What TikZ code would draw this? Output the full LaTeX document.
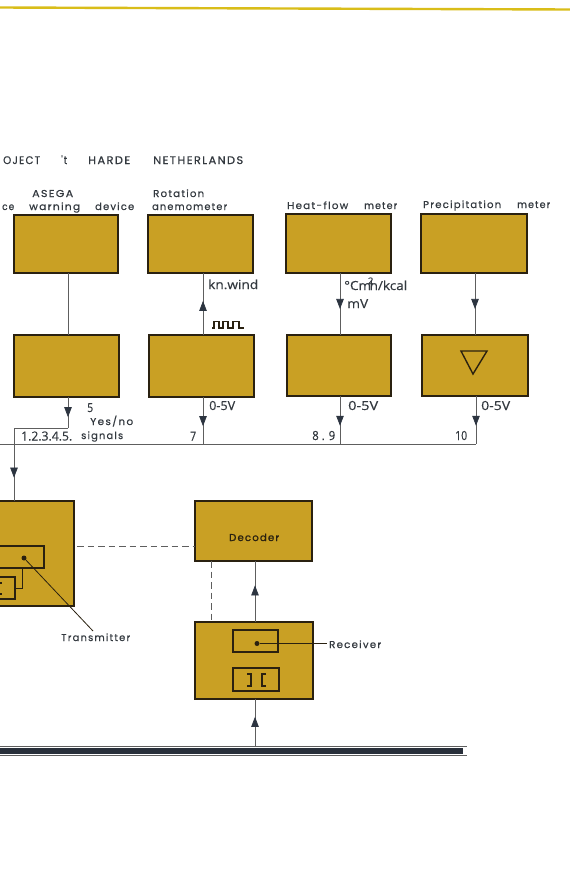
\documentclass[tikz,border=0pt]{standalone}
\usepackage{fontspec}
\usepackage{graphicx}
\setmainfont{Poppins}
\newfontfamily\spaced[LetterSpace=12,FakeBold=0.45]{Poppins}
\newfontfamily\spacedb[LetterSpace=12,FakeBold=1.0]{Poppins}
\newfontfamily\din[FakeBold=0.35]{Open Sans}
\usetikzlibrary{decorations.markings,arrows.meta}
\definecolor{gold}{HTML}{C9A024}
\definecolor{edge}{HTML}{2A2110}
\definecolor{wire}{HTML}{5E5E5E}
\definecolor{tipc}{HTML}{2C3440}
\definecolor{ink}{HTML}{33393F}
\newcommand{\bx}[5]{\node[goldbox,minimum width=#4pt-#2pt,minimum height=#5pt-#3pt] (#1) at ({(#2+#4)/2},{(#3+#5)/2}) {};}
\newcommand{\ibx}[5]{\node[innerbox,minimum width=#4pt-#2pt,minimum height=#5pt-#3pt] (#1) at ({(#2+#4)/2},{(#3+#5)/2}) {};}
% name, x1, baseline y, x2, text
\newcommand{\lb}[5]{\node[lab] (#1) at (#2,#3) {\resizebox{\dimexpr #4pt-#2pt\relax}{\height}{\spaced #5}};}
\newcommand{\hd}[5]{\node[lab,font=\fontsize{11}{12}\selectfont] (#1) at (#2,#3) {\resizebox{\dimexpr #4pt-#2pt\relax}{\height}{\spaced #5}};}
\newcommand{\nb}[5]{\node[numlab] (#1) at (#2,#3) {\resizebox{\dimexpr #4pt-#2pt\relax}{\height}{\din #5}};}
\tikzset{
  goldbox/.style={draw=edge,fill=gold,line width=1.4pt,inner sep=0pt,outer sep=0pt},
  innerbox/.style={draw=edge,line width=1.2pt,inner sep=0pt,outer sep=0pt},
  lab/.style={anchor=base west,inner sep=0pt,text=ink,font=\fontsize{10}{11}\selectfont},
  numlab/.style={anchor=base west,inner sep=0pt,text=ink,font=\fontsize{12.5}{14}\selectfont},
  wirel/.style={draw=wire,line width=0.7pt},
  dashl/.style={draw=wire,line width=0.7pt,dash pattern=on 6.5pt off 4pt},
  arrowat/.style={wirel,postaction={decorate},decoration={markings,mark=at position #1 with {\arrow[tipc]{Triangle[width=7.5pt,length=10pt]}}}},
  dotn/.style={circle,fill=edge,inner sep=0pt,minimum size=5pt}
}
\begin{document}
\begin{tikzpicture}[x=1pt,y=-1pt]
\useasboundingbox (0,0) rectangle (570,884);
\fill[white] (0,0) rectangle (570,884);
\coordinate (ruleL) at (0,7.5); \coordinate (ruleR) at (570,9.5);
\draw[line width=2.4pt,color=gold!70!yellow] (ruleL) -- (ruleR);

% headings
\hd{h1}{3}{164}{40}{OJECT}
\hd{h2}{61}{164}{67}{'t}
\hd{h3}{88}{164}{130}{HARDE}
\hd{h4}{153}{164}{243}{NETHERLANDS}
\lb{t1}{32}{197}{73}{ASEGA}
\lb{t2}{2}{210}{14}{ce}
\lb{t3}{29}{210}{80}{warning}
\lb{t4}{95}{210}{134}{device}
\lb{t5}{153}{197}{204}{Rotation}
\lb{t6}{152}{210}{227}{anemometer}
\lb{t7}{287}{209}{348}{Heat-flow}
\lb{t8}{364}{209}{397}{meter}
\lb{t9}{423}{208}{501}{Precipitation}
\lb{t10}{517}{208}{550}{meter}

% boxes
\bx{a1}{14}{215}{118}{273}
\bx{b1}{148}{215}{253}{273}
\bx{c1}{286}{214}{391}{273}
\bx{d1}{421}{214}{527}{273}
\bx{a2}{14}{335}{119}{397}
\bx{b2}{149}{335}{254}{397}
\bx{c2}{287}{335}{391}{396}
\bx{d2}{422}{335}{528}{396}
\bx{tx}{-10}{501}{74}{606}
\bx{dec}{195}{501}{312}{561}
\bx{rx}{195}{622}{313}{699}
\ibx{txa}{-10}{546}{44}{568}
\ibx{txb}{-10}{577}{15}{599}
\ibx{rxa}{233}{630}{278}{652}
\ibx{rxb}{233}{668}{279}{691}

% triangle
\draw[edge,line width=1.4pt,line join=miter] (461,351) -- (487,351) -- (473,374) -- cycle;
% brackets
\draw[edge,line width=1.3pt] (247,674) -- (251,674) -- (251,686) -- (247,686);
\draw[edge,line width=1.3pt] (266,674) -- (262,674) -- (262,686) -- (266,686);
\draw[edge,line width=1.1pt] (0,583) -- (1.5,583) (0,594) -- (1.5,594);

% junction coordinates
\coordinate (ax) at (68,300);
\coordinate (bx) at (203,300);
\coordinate (cx) at (340,300);
\coordinate (dx) at (475,300);
\coordinate (busL) at (0,444);
\coordinate (busR) at (476,444);
\coordinate (j1) at (68,428);
\coordinate (j2) at (14,428);
\coordinate (recvx) at (255,600);
\coordinate (decx) at (211,600);

% connectors
\draw[wirel] (a1.south -| ax) -- (a2.north -| ax);
\draw[arrowat=0.55] (b2.north -| bx) -- (b1.south -| bx);
\draw[arrowat=0.58] (c1.south -| cx) -- (c2.north -| cx);
\draw[arrowat=0.58] (d1.south -| dx) -- (d2.north -| dx);
\draw[arrowat=0.65] (a2.south -| ax) -- (j1);
\draw[wirel] (j1) -- (j2);
\draw[arrowat=0.68] (j2) -- (j2 |- tx.north);
\draw[wirel] (busL) -- (busR);
\draw[arrowat=0.62] (b2.south -| bx) -- (bx |- busL);
\draw[arrowat=0.62] (c2.south -| cx) -- (cx |- busL);
\draw[arrowat=0.62] (d2.south -| busR) -- (busR);
\coordinate (dashL) at (77,546);
\draw[dashl] (dashL) -- (dashL -| dec.west);
\draw[dashl] (dec.south -| decx) -- (rx.north -| decx);
\draw[arrowat=0.6] (rx.north -| recvx) -- (dec.south -| recvx);

% bottom cable
\coordinate (cabT) at (255,746);
\draw[wire,line width=0.7pt] (0,746) -- (467,746);
\fill[tipc!90!black] (0,748) rectangle (463,753.5);
\draw[wire,line width=0.6pt] (0,754.8) -- (467,754.8);
\draw[arrowat=0.62] (cabT) -- (rx.south -| cabT);

% dots and leaders
\node[dotn] (tdot) at (24,558) {};
\lb{tlab}{61}{641}{130}{Transmitter}
\coordinate (tend) at (93,631);
\draw[edge,line width=0.8pt] (tdot) -- (tend);
\node[dotn] (rdot) at (257,643.5) {};
\lb{rlab}{329}{648}{381}{Receiver}
\coordinate (rend) at (327,643.5);
\draw[edge,line width=0.8pt] (rdot) -- (rend);
\draw[edge,line width=0.6pt] (22,568) -- (22,588) -- (15,588);
\node[lab,text=edge] (dectext) at (229,541) {\resizebox{50pt}{\height}{\spacedb Decoder}};

% labels
\nb{kn}{208}{289}{258}{kn.wind}
\nb{kc}{344}{290}{407}{°Cm\kern-3pt\raisebox{6pt}{\fontsize{9}{10}\selectfont 2}\kern-3.5pt h/kcal}
\nb{mv}{347}{308}{368}{mV}
\draw[edge,line width=1.2pt] (212,328) -- (214,328) -- (214,321.5) -- (219,321.5) -- (219,328) -- (223,328) -- (223,321.5) -- (228,321.5) -- (228,328) -- (233,328) -- (233,321.5) -- (239,321.5) -- (239,328) -- (244,328);
\nb{n5}{87}{412}{93}{5}
\lb{yes}{90}{425}{133}{Yes/no}
\nb{n1}{21}{440.5}{72}{1.2.3.4.5.}
\lb{sig}{81}{439}{123}{signals}
\nb{v1}{209}{410}{235}{0-5V}
\nb{n7}{190}{440.5}{196}{7}
\nb{v2}{348}{410}{378}{0-5V}
\nb{n8}{312}{440}{335}{8 . 9}
\nb{v3}{481}{410}{510}{0-5V}
\nb{n10}{455}{440}{467}{10}
\end{tikzpicture}
\end{document}
